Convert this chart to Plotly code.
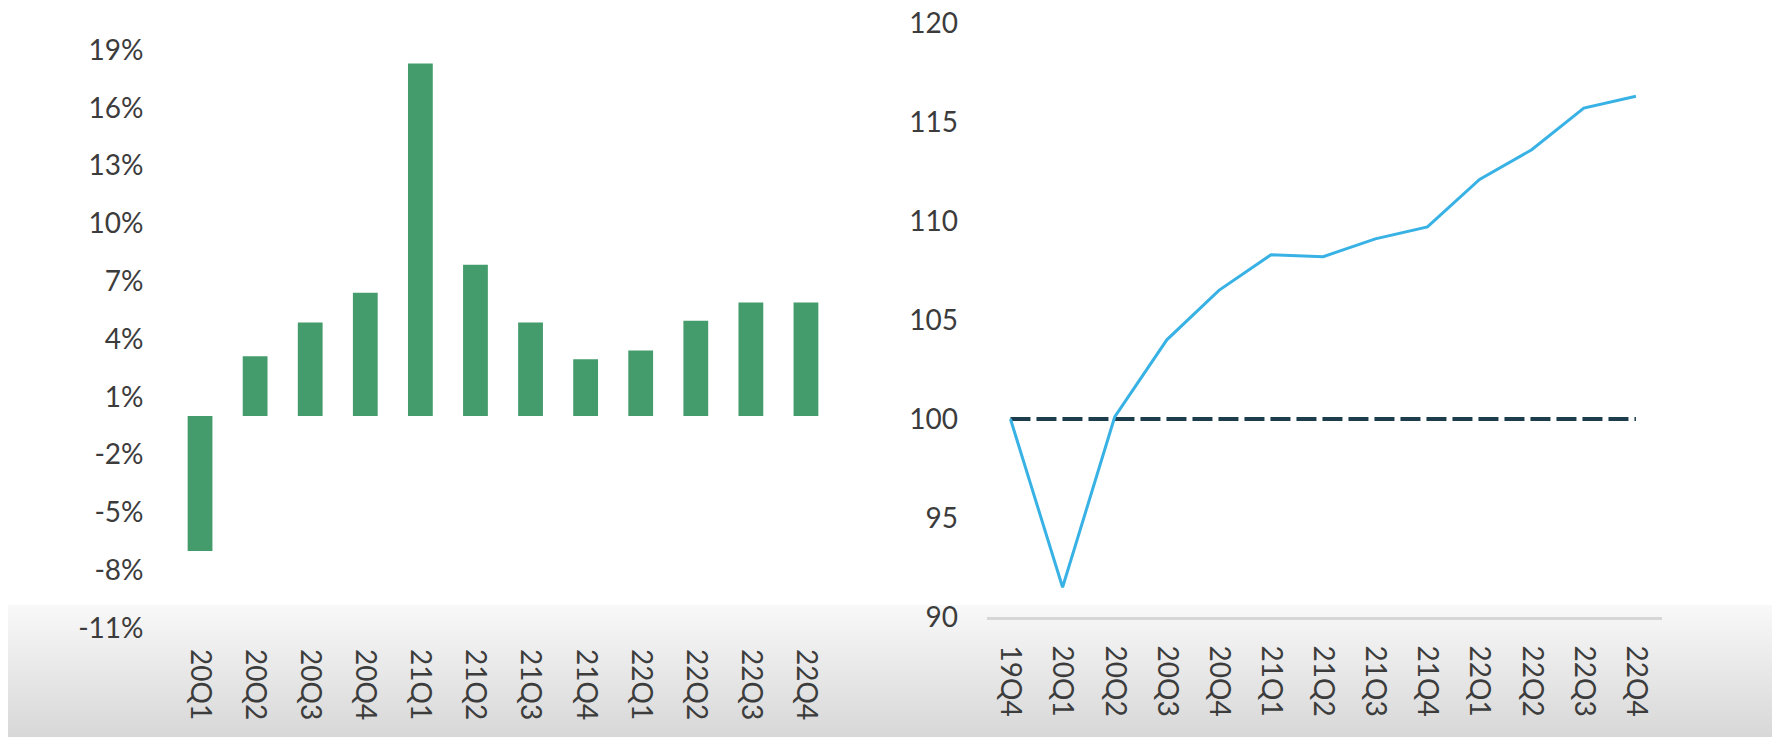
import plotly.graph_objects as go

# ---- data ----
bar_quarters = ["20Q1", "20Q2", "20Q3", "20Q4", "21Q1", "21Q2", "21Q3", "21Q4",
                "22Q1", "22Q2", "22Q3", "22Q4"]
bar_growth = [-7.0, 3.1, 4.85, 6.4, 18.3, 7.85, 4.85, 2.95, 3.4, 4.95, 5.9, 5.9]
bar_ticks = [19, 16, 13, 10, 7, 4, 1, -2, -5, -8, -11]
bar_tick_labels = ["19%", "16%", "13%", "10%", "7%", "4%", "1%", "-2%", "-5%", "-8%", "-11%"]

line_quarters = ["19Q4", "20Q1", "20Q2", "20Q3", "20Q4", "21Q1", "21Q2", "21Q3", "21Q4",
                 "22Q1", "22Q2", "22Q3", "22Q4"]
line_index = [100, 91.5, 100.1, 104.0, 106.5, 108.3, 108.2, 109.1, 109.7,
              112.1, 113.6, 115.7, 116.3]
baseline = [100] * len(line_quarters)
line_ticks = [90, 95, 100, 105, 110, 115, 120]

FONT = "Lato"
TXT = "#3c3c3c"

fig = go.Figure()

fig.add_trace(go.Bar(x=bar_quarters, y=bar_growth, marker_color="#449b6c",
                     marker_line_width=0, xaxis="x", yaxis="y", showlegend=False))

fig.add_trace(go.Scatter(x=line_quarters, y=baseline, mode="lines",
                         line=dict(color="#1d3d4c", width=4, dash="20px,6px"),
                         xaxis="x2", yaxis="y2", showlegend=False))
fig.add_trace(go.Scatter(x=line_quarters, y=line_index, mode="lines",
                         line=dict(color="#38b2e4", width=3),
                         xaxis="x2", yaxis="y2", showlegend=False))

# gradient band at the bottom (approximated by stacked rectangles)
shapes = []
top_px, bot_px, H, W = 605, 737, 737, 1772
n = 33
c0, c1 = 248, 216
for i in range(n):
    y0 = top_px + (bot_px - top_px) * i / n
    y1 = top_px + (bot_px - top_px) * (i + 1) / n
    c = round(c0 + (c1 - c0) * (i + 0.5) / n)
    shapes.append(dict(type="rect", xref="paper", yref="paper", layer="below",
                       x0=8 / W, x1=1, y0=1 - y1 / H, y1=1 - y0 / H,
                       line_width=0, fillcolor=f"rgb({c},{c},{c})"))

tickfont = dict(family=FONT, size=28, color=TXT)

fig.update_layout(
    template="none",
    width=1772, height=737,
    margin=dict(l=0, r=0, t=0, b=0, pad=0),
    paper_bgcolor="white", plot_bgcolor="rgba(0,0,0,0)",
    bargap=0.55,
    shapes=shapes,
    xaxis=dict(domain=[172.5 / W, 833.5 / W], anchor="y", tickangle=90,
               tickfont=tickfont, showgrid=False, showline=False, zeroline=False,
               ticks="", ticklabelstandoff=20, range=[-0.5, 11.5], automargin=False),
    yaxis=dict(domain=[1 - 628 / H, 1 - 50 / H], anchor="x", range=[-11, 19],
               tickvals=bar_ticks, ticktext=bar_tick_labels, tickfont=tickfont,
               showgrid=False, zeroline=False, showline=False, ticks="",
               ticklabelstandoff=28, automargin=False),
    xaxis2=dict(domain=[987 / W, 1662 / W], anchor="y2", tickangle=90,
                tickfont=tickfont, showgrid=False, zeroline=False, ticks="",
                showline=True, linecolor="#d6d6d6", linewidth=3,
                ticklabelstandoff=20, range=[-0.45, 12.5], automargin=False),
    yaxis2=dict(domain=[1 - 617 / H, 1 - 23 / H], anchor="x2", range=[90, 120],
                tickvals=line_ticks, tickfont=tickfont, showgrid=False,
                zeroline=False, showline=False, ticks="", ticklabelstandoff=28,
                automargin=False),
)

fig.write_html("out.html")
